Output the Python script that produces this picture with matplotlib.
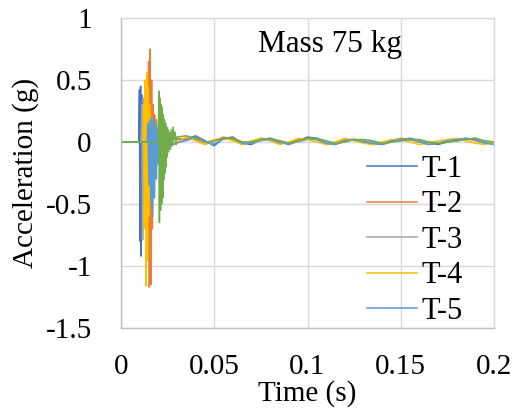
import numpy as np
import matplotlib
matplotlib.use("Agg")
import matplotlib.pyplot as plt

plt.rcParams['font.family'] = ['Liberation Serif', 'DejaVu Serif']

# impact part of each trace (time s, acceleration g)
t1_t = [0, 0.0095, 0.0099, 0.0102, 0.0105, 0.0108, 0.0111, 0.0114, 0.0117, 0.0120, 0.0124,
        0.0128, 0.0133, 0.0138, 0.0145, 0.0152, 0.016, 0.017, 0.018, 0.019, 0.020, 0.021,
        0.022, 0.023, 0.024, 0.025, 0.026, 0.027, 0.028]
t1_a = [0, 0, 0.42, -0.80, 0.45, -0.92, 0.38, -0.70, 0.30, -0.45, 0.22, -0.30, 0.12, -0.18,
        0.08, -0.12, 0.10, -0.06, 0.05, -0.08, 0.10, -0.05, 0.06, -0.04, 0.05, -0.03, 0.04,
        -0.02, 0.03]

t2_t = [0, 0.0128, 0.0132, 0.0136, 0.0140, 0.0144, 0.0148, 0.0152, 0.0156, 0.0160, 0.0164,
        0.0168, 0.0172, 0.0176, 0.018, 0.0185, 0.019, 0.0195, 0.020, 0.021, 0.022, 0.023,
        0.024, 0.025, 0.026, 0.027, 0.028]
t2_a = [0, 0, 0.35, -0.60, 0.55, -0.95, 0.65, -1.17, 0.75, -1.15, 0.50, -0.70, 0.30, -0.45,
        0.22, -0.25, 0.18, -0.12, 0.12, -0.08, 0.10, -0.06, 0.06, -0.04, 0.05, -0.03, 0.02]

t3_t = [0, 0.0108, 0.0112, 0.0116, 0.0120, 0.0125, 0.013, 0.0135, 0.014, 0.015, 0.016,
        0.017, 0.018, 0.020, 0.022, 0.024, 0.026, 0.028]
t3_a = [0, 0, 0.30, -0.79, 0.35, -0.50, 0.25, -0.30, 0.15, -0.15, 0.10, -0.08, 0.06, -0.05,
        0.04, -0.03, 0.03, -0.01]

t4_t = [0, 0.0118, 0.0122, 0.0126, 0.0130, 0.0134, 0.0138, 0.0142, 0.0146, 0.0150, 0.0155,
        0.016, 0.0165, 0.017, 0.0175, 0.018, 0.019, 0.020, 0.021, 0.022, 0.023, 0.024,
        0.025, 0.026, 0.027, 0.028]
t4_a = [0, 0, 0.30, -0.70, 0.50, -1.16, 0.56, -0.95, 0.45, -0.60, 0.30, -0.40, 0.20, -0.25,
        0.12, -0.15, 0.10, -0.08, 0.06, -0.05, 0.05, -0.04, 0.04, -0.03, 0.03, -0.02]

t5_t = [0, 0.0140, 0.0145, 0.015, 0.0155, 0.016, 0.0165, 0.017, 0.0175, 0.018, 0.0185,
        0.019, 0.0195, 0.020, 0.021, 0.022, 0.023, 0.024, 0.025, 0.026, 0.027, 0.028]
t5_a = [0, 0, 0.15, -0.35, 0.18, -0.50, 0.20, -0.60, 0.19, -0.45, 0.15, -0.30, 0.12, -0.18,
        0.10, -0.10, 0.08, -0.06, 0.06, -0.04, 0.04, -0.02]

t6_t = [0, 0.0200, 0.0203, 0.0206, 0.0209, 0.0212, 0.0215, 0.0218, 0.0221, 0.0224, 0.0227,
        0.0230, 0.0233, 0.0236, 0.0239, 0.0242, 0.0245, 0.0248, 0.0251, 0.0255, 0.026,
        0.0265, 0.027, 0.0275, 0.028, 0.0285, 0.029, 0.0295, 0.030]
t6_a = [0, 0, 0.41, -0.65, 0.35, -0.55, 0.30, -0.50, 0.28, -0.45, 0.22, -0.30, 0.18, -0.25,
        0.15, -0.20, 0.12, -0.12, 0.10, -0.08, 0.08, -0.06, 0.10, -0.03, 0.12, 0.02, 0.08,
        -0.02, 0.04]

# residual vibration, sampled every 5 ms from 0.035 s to 0.2 s
tail_t = np.round(np.arange(0.035, 0.2001, 0.005), 3)
tail1 = [0.02, 0.05, 0.01, -0.03, 0.03, 0.04, -0.01, -0.02, 0.02, 0.03, 0.00, -0.02, 0.01,
         0.04, 0.03, -0.01, -0.02, 0.01, 0.02, 0.01, -0.01, -0.02, 0.00, 0.02, 0.03, 0.01,
         -0.01, -0.02, 0.00, 0.01, 0.02, 0.03, 0.00, -0.02]
tail2 = [0.03, 0.02, -0.02, 0.01, 0.04, 0.02, -0.02, 0.00, 0.03, 0.02, -0.01, -0.01, 0.02,
         0.03, 0.02, -0.02, -0.01, 0.02, 0.02, 0.00, -0.02, -0.01, 0.01, 0.03, 0.02, 0.00,
         -0.02, -0.01, 0.01, 0.02, 0.03, 0.01, -0.01, -0.01]
tail3 = [0.01, 0.03, 0.00, -0.01, 0.02, 0.03, 0.00, -0.01, 0.01, 0.02, 0.01, -0.01, 0.00,
         0.02, 0.02, 0.00, -0.01, 0.00, 0.02, 0.01, 0.00, -0.01, 0.00, 0.01, 0.02, 0.01,
         0.00, -0.01, 0.00, 0.01, 0.02, 0.02, 0.00, -0.01]
tail4 = [0.04, 0.01, -0.02, 0.02, 0.03, 0.01, -0.02, 0.01, 0.03, 0.01, -0.02, 0.00, 0.03,
         0.02, 0.00, -0.02, 0.00, 0.03, 0.01, -0.01, -0.02, 0.00, 0.02, 0.02, 0.00, -0.02,
         -0.01, 0.01, 0.02, 0.03, 0.01, -0.01, -0.02, 0.00]
tail5 = [0.02, 0.04, 0.00, -0.02, 0.03, 0.03, -0.01, -0.01, 0.02, 0.02, 0.00, -0.02, 0.01,
         0.03, 0.02, -0.01, -0.02, 0.01, 0.02, 0.00, -0.01, -0.02, 0.01, 0.02, 0.02, 0.00,
         -0.02, -0.01, 0.01, 0.02, 0.03, 0.02, -0.01, -0.02]
tail6 = [0.05, 0.03, 0.00, 0.01, 0.03, 0.03, 0.00, 0.00, 0.02, 0.03, 0.01, -0.01, 0.01,
         0.03, 0.03, 0.01, -0.01, 0.00, 0.02, 0.02, 0.01, -0.01, 0.00, 0.01, 0.02, 0.02,
         0.00, -0.01, 0.00, 0.01, 0.02, 0.03, 0.01, 0.00]

labels = ['T-1', 'T-2', 'T-3', 'T-4', 'T-5', None]
colors = ['#4472C4', '#ED7D31', '#A5A5A5', '#FFC000', '#5B9BD5', '#70AD47']

series = [(t1_t, t1_a, tail1), (t2_t, t2_a, tail2), (t3_t, t3_a, tail3),
          (t4_t, t4_a, tail4), (t5_t, t5_a, tail5), (t6_t, t6_a, tail6)]

fig = plt.figure(figsize=(5.18, 4.16), dpi=100)
ax = fig.add_axes([121 / 518, 1 - 328 / 416, 373 / 518, 310 / 416])

for (tt, aa, tail), lab, c in zip(series, labels, colors):
    t = np.concatenate([tt, tail_t])
    a = np.concatenate([aa, tail])
    ax.plot(t, a, color=c, lw=1.1, label=lab)

ax.set_xlim(0, 0.2)
ax.set_ylim(-1.5, 1)
ax.set_xticks([0, 0.05, 0.1, 0.15, 0.2])
ax.set_xticklabels(['0', '0.05', '0.1', '0.15', '0.2'])
ax.set_yticks([-1.5, -1, -0.5, 0, 0.5, 1])
ax.set_yticklabels(['-1.5', '-1', '-0.5', '0', '0.5', '1'])
ax.grid(True, color='#D9D9D9', lw=1.0)
ax.set_axisbelow(True)
ax.tick_params(length=0, labelsize=21)
ax.tick_params(axis='x', pad=19)
ax.tick_params(axis='y', pad=21)
for s in ['top', 'right']:
    ax.spines[s].set_color('#D9D9D9')
for s in ['left', 'bottom']:
    ax.spines[s].set_color('#BFBFBF')
for s in ax.spines.values():
    s.set_linewidth(1.0)

ax.set_xlabel('Time (s)', fontsize=21, labelpad=0)
ax.set_ylabel('Acceleration (g)', fontsize=21, labelpad=5)
ax.text(0.56, 0.89, 'Mass 75 kg', transform=ax.transAxes, ha='center', va='baseline',
        fontsize=22.5)

handles, labs = ax.get_legend_handles_labels()
leg = fig.legend(handles[:5], labs[:5], loc='upper left', frameon=False, fontsize=22,
                 bbox_to_anchor=(367 / 518, 1 - 155 / 416), borderaxespad=0, borderpad=0,
                 handlelength=1.65, handletextpad=0.15, labelspacing=0.21)

fig.savefig('out.png', dpi=100)
